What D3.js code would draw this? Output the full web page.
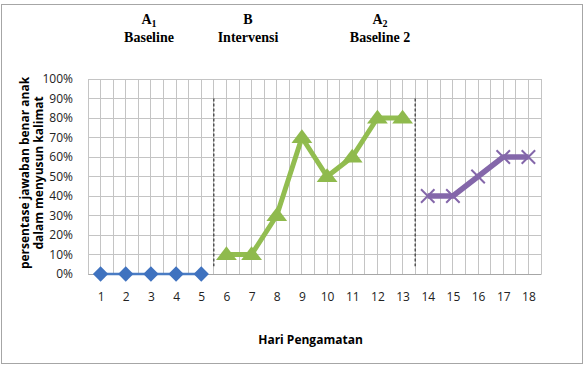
<!DOCTYPE html>
<meta charset="utf-8">
<head>
<style>
body { margin: 0; background: #fff; }
svg text { font-family: "Open Sans", sans-serif; }
.phase { font-family: "Liberation Serif", "Times New Roman", serif !important; font-weight: bold; font-size: 14px; }
</style>
</head>
<script src="https://d3js.org/d3.v7.min.js"></script>
<div id="chart"></div>
<script>

// data
var days = [1,2,3,4,5,6,7,8,9,10,11,12,13,14,15,16,17,18];
var baselineDays = [1,2,3,4,5];
var baselineVals = [0,0,0,0,0];
var interventionDays = [6,7,8,9,10,11,12,13];
var interventionVals = [10,10,30,70,50,60,80,80];
var baseline2Days = [14,15,16,17,18];
var baseline2Vals = [40,40,50,60,60];
var yTicks = [0,10,20,30,40,50,60,70,80,90,100];
var phaseBreaks = [5.5, 13.5];

var W = 587, H = 366;
var margin = {top: 79, right: 46, bottom: 92, left: 88},
    width = W - margin.left - margin.right,
    height = H - margin.top - margin.bottom;

var svg = d3.select("#chart").append("svg")
    .attr("width", W).attr("height", H);

// outer chart border
svg.append("rect")
  .attr("x", 1.5).attr("y", 4.5).attr("width", 581).attr("height", 359)
  .attr("fill", "none").attr("stroke", "#a6a6a6");

var g = svg.append("g")
  .attr("transform", "translate(" + margin.left + "," + margin.top + ")");

var x = d3.scaleLinear().domain([0.5, 18.5]).range([0, width]);
var y = d3.scaleLinear().domain([0, 100]).range([height, 0]);

// vertical gridlines at every half step
var vlines = d3.range(0.5, 18.51, 0.5);
g.selectAll(".vgrid").data(vlines).enter().append("line")
  .attr("x1", function(d) { return x(d); }).attr("x2", function(d) { return x(d); })
  .attr("y1", 0).attr("y2", height)
  .attr("stroke", "#c4c4c4").attr("stroke-width", 1)
  .attr("shape-rendering", "crispEdges");

g.selectAll(".hgrid").data(yTicks).enter().append("line")
  .attr("x1", 0).attr("x2", width)
  .attr("y1", function(d) { return y(d); }).attr("y2", function(d) { return y(d); })
  .attr("stroke", "#c4c4c4").attr("stroke-width", 1)
  .attr("shape-rendering", "crispEdges");

// axes
var yAxis = g.append("g").call(d3.axisLeft(y).tickValues(yTicks)
  .tickFormat(function(d) { return d + "%"; }).tickSize(0).tickPadding(15));
yAxis.select(".domain").remove();
yAxis.selectAll("text").attr("font-size", "12px").attr("fill", "#222");

var xAxis = g.append("g").attr("transform", "translate(0," + height + ")")
  .call(d3.axisBottom(x).tickValues(days).tickFormat(d3.format("d")).tickSize(0).tickPadding(18));
xAxis.select(".domain").attr("stroke", "#a6a6a6");
xAxis.selectAll("text").attr("font-size", "12px").attr("fill", "#222");

// phase separators
g.selectAll(".phaseLine").data(phaseBreaks).enter().append("line")
  .attr("x1", function(d) { return x(d); }).attr("x2", function(d) { return x(d); })
  .attr("y1", y(90)).attr("y2", y(4))
  .attr("stroke", "#333").attr("stroke-width", 1.2)
  .attr("stroke-dasharray", "3,2");

var line = d3.line().x(function(d) { return x(d[0]); }).y(function(d) { return y(d[1]); });

function pairs(ds, vs) { return ds.map(function(d, i) { return [d, vs[i]]; }); }

var s1 = pairs(baselineDays, baselineVals),
    s2 = pairs(interventionDays, interventionVals),
    s3 = pairs(baseline2Days, baseline2Vals);

// baseline A1
g.append("path").datum(s1).attr("d", line)
  .attr("fill", "none").attr("stroke", "#4a7cc4").attr("stroke-width", 2.5);
g.selectAll(".dia").data(s1).enter().append("path")
  .attr("d", d3.symbol().type(d3.symbolDiamond2).size(150))
  .attr("transform", function(d) { return "translate(" + x(d[0]) + "," + y(d[1]) + ")"; })
  .attr("fill", "#3f72bf");

// intervention B
g.append("path").datum(s2).attr("d", line)
  .attr("fill", "none").attr("stroke", "#92bd50").attr("stroke-width", 5)
  .attr("stroke-linejoin", "round");
g.selectAll(".tri").data(s2).enter().append("path")
  .attr("d", d3.symbol().type(d3.symbolTriangle).size(120))
  .attr("transform", function(d) { return "translate(" + x(d[0]) + "," + (y(d[1]) + 1) + ") scale(1.25,0.95)"; })
  .attr("fill", "#8fba4d");

// baseline A2
g.append("path").datum(s3).attr("d", line)
  .attr("fill", "none").attr("stroke", "#8467aa").attr("stroke-width", 5.5)
  .attr("stroke-linejoin", "round");
g.selectAll(".cross").data(s3).enter().append("path")
  .attr("d", d3.symbol().type(d3.symbolX).size(120))
  .attr("transform", function(d) { return "translate(" + x(d[0]) + "," + y(d[1]) + ")"; })
  .attr("fill", "none").attr("stroke", "#8467aa").attr("stroke-width", 2);

// axis titles
svg.append("text").attr("x", margin.left + width / 2 - 4).attr("y", 344)
  .attr("text-anchor", "middle").attr("font-weight", "bold").attr("font-size", "12px")
  .text("Hari Pengamatan");

var yt = svg.append("text").attr("transform", "translate(29,173) rotate(-90)")
  .attr("text-anchor", "middle").attr("font-weight", "bold").attr("font-size", "12px");
yt.append("tspan").attr("x", 0).attr("y", 0).text("persentase jawaban benar anak");
yt.append("tspan").attr("x", 0).attr("y", 14).text("dalam menyusun kalimat");

// phase labels
var phases = [
  {cx: 149, top: "A", sub: "1", bottom: "Baseline"},
  {cx: 248, top: "B", sub: "", bottom: "Intervensi"},
  {cx: 380, top: "A", sub: "2", bottom: "Baseline 2"}
];
phases.forEach(function(p) {
  var t = svg.append("text").attr("class", "phase").attr("x", p.cx).attr("y", 24)
    .attr("text-anchor", "middle");
  t.append("tspan").text(p.top);
  if (p.sub) t.append("tspan").attr("dy", 3).attr("font-size", "10px").text(p.sub);
  svg.append("text").attr("class", "phase").attr("x", p.cx).attr("y", 42)
    .attr("text-anchor", "middle").text(p.bottom);
});
</script>
